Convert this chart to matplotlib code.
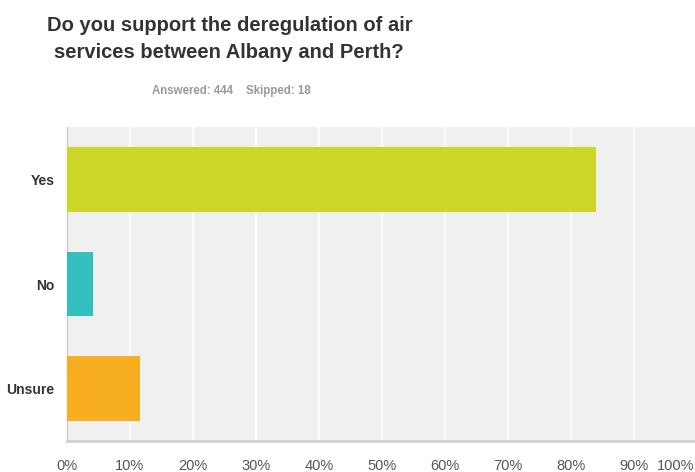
import matplotlib.pyplot as plt
import matplotlib.transforms as mtransforms
import numpy as np

plt.rcParams["font.family"] = ["Liberation Sans", "DejaVu Sans"]

# survey answers (percent of respondents)
answers = ["Yes", "No", "Unsure"]
percents = [84.0, 4.1, 11.6]
colors = ["#cdd526", "#33bfbf", "#f7ae20"]
x_ticks = [0, 10, 20, 30, 40, 50, 60, 70, 80, 90, 100]
x_labels = [f"{t}%" for t in x_ticks]
title_lines = ["Do you support the deregulation of air",
               "services between Albany and Perth?"]
subtitle = "Answered: 444    Skipped: 18"

W, H = 695, 472
fig = plt.figure(figsize=(W / 100, H / 100), dpi=100)
ax = fig.add_axes([67 / W, 31 / H, 630 / W, 314 / H])

ax.set_facecolor("#f0f0f0")
y = np.arange(len(answers))
ax.barh(y, percents, height=0.62, color=colors, zorder=3)
ax.set_ylim(len(answers) - 0.5, -0.5)
ax.set_xlim(0, 100)

ax.set_xticks(x_ticks)
ax.set_xticklabels(x_labels, fontsize=10.5, color="#555555")
ax.set_yticks(y)
ax.set_yticklabels(answers, fontsize=10, fontweight="bold", color="#333333")
ax.tick_params(axis="both", length=0)
ax.tick_params(axis="x", pad=13)
ax.tick_params(axis="y", pad=9)
# last label sits flush with the right edge, like the original
last = ax.get_xticklabels()[-1]
last.set_ha("right")
last.set_transform(last.get_transform() + mtransforms.ScaledTranslation(-3 / 100, 0, fig.dpi_scale_trans))

ax.grid(axis="x", color="white", linewidth=1.2, zorder=1)
for side in ["top", "right"]:
    ax.spines[side].set_visible(False)
ax.spines["left"].set_color("#cccccc")
ax.spines["left"].set_linewidth(1)
ax.spines["bottom"].set_color("#d0d0d0")
ax.spines["bottom"].set_linewidth(2)

# title, one line at a time so the baselines land where they should
fig.text(230 / W, 1 - 31 / H, title_lines[0], ha="center", va="baseline",
         fontsize=14.5, fontweight="bold", color="#333333")
fig.text(229 / W, 1 - 58 / H, title_lines[1], ha="center", va="baseline",
         fontsize=14.5, fontweight="bold", color="#333333")
fig.text(231 / W, 1 - 91 / H, subtitle, ha="center", va="center",
         fontsize=8.3, fontweight="bold", color="#999999")

fig.savefig("out.png", dpi=100)
